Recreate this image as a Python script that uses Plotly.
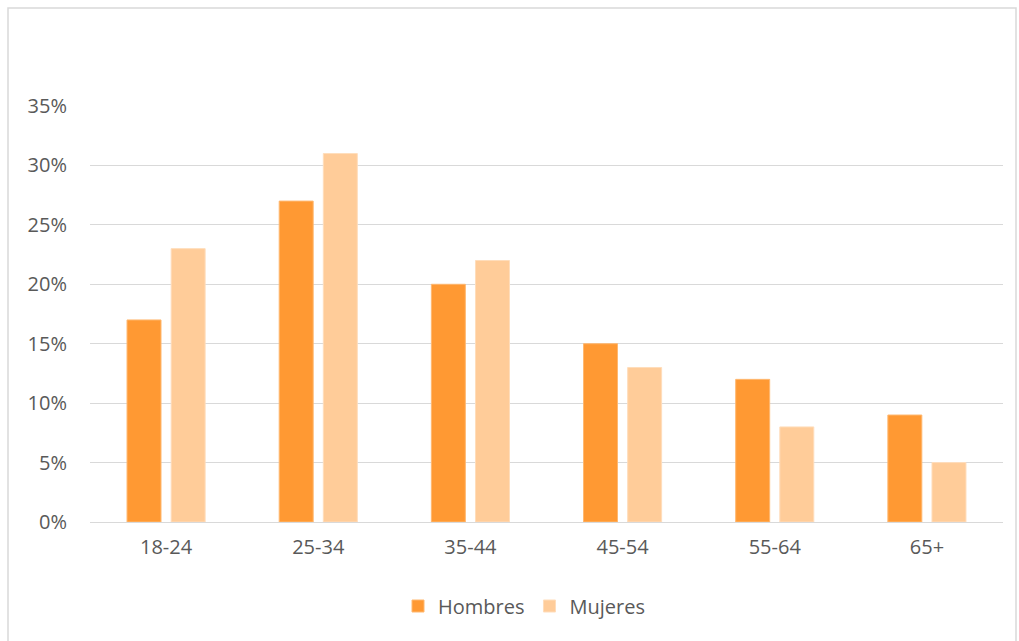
import plotly.graph_objects as go

categories = ["18-24", "25-34", "35-44", "45-54", "55-64", "65+"]
hombres = [0.17, 0.27, 0.20, 0.15, 0.12, 0.09]
mujeres = [0.23, 0.31, 0.22, 0.13, 0.08, 0.05]
y_ticks = [0, 0.05, 0.10, 0.15, 0.20, 0.25, 0.30, 0.35]

FONT = "Open Sans"
GRAY = "#595959"
FS = 20

fig = go.Figure()
fig.add_trace(go.Bar(x=categories, y=hombres, name="Hombres",
                     marker=dict(color="#FF9933", line=dict(color="#FFB870", width=1))))
fig.add_trace(go.Bar(x=categories, y=mujeres, name="Mujeres",
                     marker=dict(color="#FFCC99", line=dict(color="#FFDDBB", width=1))))

W, H = 1019, 641
L, R, T, B = 90, 16, 106, 119
pw, ph = W - L - R, H - T - B

def px(x):
    return (x - L) / pw

def py(y):
    return (H - B - y) / ph

fig.update_layout(
    width=W, height=H,
    margin=dict(l=L, r=R, t=T, b=B),
    paper_bgcolor="white", plot_bgcolor="white",
    barmode="group", bargap=0.42, bargroupgap=0.23,
    font=dict(family=FONT, size=FS, color=GRAY),
    showlegend=True,
    legend=dict(orientation="h", x=px(524), xanchor="center", y=py(606), yanchor="middle",
                font=dict(family=FONT, size=FS, color=GRAY), itemwidth=30,
                traceorder="normal"),
    xaxis=dict(showgrid=False, showline=False, zeroline=False, ticks="",
               ticklabelstandoff=11, tickfont=dict(family=FONT, size=FS, color=GRAY)),
    yaxis=dict(range=[0, 0.35], tickvals=y_ticks, tickformat=".0%",
               showgrid=True, gridcolor="#D9D9D9", gridwidth=1.3,
               zeroline=True, zerolinecolor="#D9D9D9", zerolinewidth=1.3,
               showline=False, ticks="", ticklabelstandoff=22,
               tickfont=dict(family=FONT, size=FS, color=GRAY)),
    shapes=[dict(type="rect", xref="paper", yref="paper",
                 x0=px(8), x1=px(1016), y0=py(660), y1=py(8),
                 line=dict(color="#D9D9D9", width=1.5), layer="below")],
)

fig.write_html("out.html")
